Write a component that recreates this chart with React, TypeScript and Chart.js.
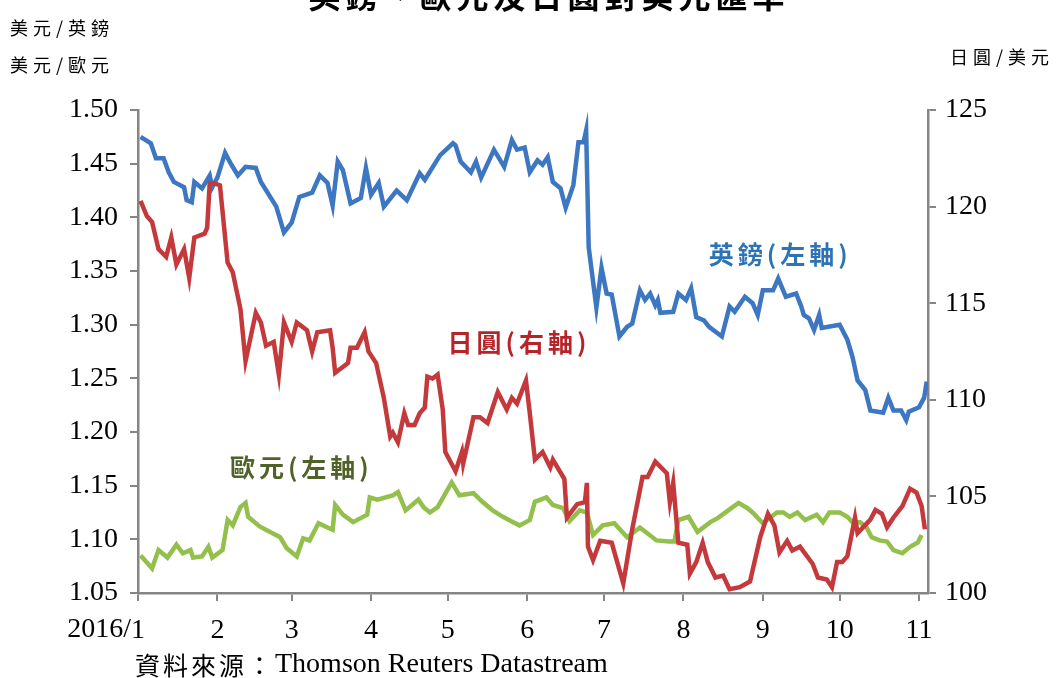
import React, { useEffect, useRef } from "react";
import { Chart, registerables } from "chart.js";

Chart.register(...registerables);

// x values: day of 2016 (0 = Jan 1)
const MONTH_START_DAYS = [0, 31, 60, 91, 121, 152, 182, 213, 244, 274, 305];
const MONTH_LABELS = ["1", "2", "3", "4", "5", "6", "7", "8", "9", "10", "11"];
const LEFT_TICKS = [1.05, 1.1, 1.15, 1.2, 1.25, 1.3, 1.35, 1.4, 1.45, 1.5];
const RIGHT_TICKS = [100, 105, 110, 115, 120, 125];

const TITLE = "英鎊、歐元及日圓對美元匯率";
const SOURCE_CJK = "資料來源：";
const SOURCE_EN = "Thomson Reuters Datastream";

const gbpDays = [1, 5, 7, 10, 12, 14, 18, 19, 21, 22, 25, 28, 29, 31, 34, 36, 39, 42, 46, 48, 54, 57, 60, 63, 68, 71, 74, 76, 78, 80, 83, 87, 89, 91, 94, 96, 101, 105, 110, 112, 118, 123, 124, 126, 130, 132, 134, 139, 143, 146, 148, 151, 153, 156, 158, 160, 162, 165, 167, 170, 172, 174, 175, 176, 179, 181, 183, 185, 188, 191, 193, 196, 198, 200, 202, 203, 204, 209, 211, 214, 216, 218, 221, 223, 228, 231, 233, 237, 240, 242, 244, 248, 250, 253, 257, 259, 260, 262, 264, 266, 267, 274, 277, 279, 281, 284, 286, 291, 293, 295, 298, 300, 301, 305, 307, 308];
const gbpValues = [1.475, 1.469, 1.455, 1.455, 1.442, 1.433, 1.428, 1.416, 1.414, 1.433, 1.427, 1.439, 1.428, 1.437, 1.46, 1.451, 1.439, 1.447, 1.446, 1.433, 1.41, 1.386, 1.395, 1.419, 1.423, 1.439, 1.432, 1.411, 1.452, 1.444, 1.413, 1.418, 1.446, 1.421, 1.432, 1.41, 1.425, 1.416, 1.441, 1.435, 1.458, 1.469, 1.467, 1.452, 1.442, 1.452, 1.437, 1.463, 1.447, 1.472, 1.463, 1.465, 1.442, 1.453, 1.449, 1.456, 1.433, 1.427, 1.409, 1.43, 1.47, 1.47, 1.481, 1.372, 1.316, 1.353, 1.329, 1.328, 1.289, 1.298, 1.301, 1.332, 1.323, 1.329, 1.318, 1.323, 1.311, 1.312, 1.329, 1.323, 1.334, 1.307, 1.304, 1.298, 1.289, 1.317, 1.312, 1.326, 1.32, 1.309, 1.332, 1.332, 1.343, 1.326, 1.329, 1.317, 1.309, 1.306, 1.295, 1.309, 1.297, 1.3, 1.286, 1.27, 1.248, 1.239, 1.22, 1.218, 1.232, 1.22, 1.22, 1.211, 1.219, 1.223, 1.232, 1.247];

const jpyDays = [1, 3.5, 5.5, 8, 11, 13, 15, 18, 20, 22, 26, 27, 28, 30, 32, 35, 37, 40, 42, 46, 48, 50, 53, 55, 57, 60, 62, 64, 66, 68, 70, 75, 76, 77, 82, 83, 85.5, 88.5, 90, 93, 96, 98.5, 99.5, 101.5, 104, 105.5, 108, 110, 112, 113, 115, 117, 119, 120, 124, 126.5, 127, 131, 133.5, 136.5, 140.5, 144, 146, 148, 151.5, 153, 155, 158, 161, 162, 166.5, 167.5, 171.5, 174.5, 175.3, 175.7, 177.7, 180.5, 185, 188, 189.5, 193, 197, 199, 202, 206.5, 207.7, 209, 211, 214.5, 215.5, 218, 220.5, 222.5, 225.5, 228.5, 231, 235, 239, 243, 246, 248.5, 250.5, 253.5, 255.5, 258.5, 263.5, 265.5, 269, 271, 273, 275, 277, 280, 281, 286, 288, 290.5, 292.5, 295, 298.5, 301.5, 304, 306, 307.3];
const jpyValues = [120.3, 119.5, 119.2, 117.8, 117.4, 118.4, 117.0, 117.8, 116.3, 118.4, 118.6, 118.9, 121.2, 121.2, 121.1, 117.1, 116.6, 114.7, 112.0, 114.5, 114.0, 112.8, 113.0, 111.3, 114.0, 113.0, 114.0, 113.8, 113.6, 112.5, 113.5, 113.6, 112.7, 111.4, 111.9, 112.7, 112.7, 113.5, 112.5, 111.9, 110.1, 108.1, 108.3, 107.8, 109.3, 108.7, 108.7, 109.3, 109.6, 111.2, 111.1, 111.3, 109.5, 107.3, 106.3, 107.3, 106.7, 109.1, 109.1, 108.8, 110.4, 109.5, 110.1, 109.8, 111.0, 109.3, 106.9, 107.3, 106.5, 106.9, 105.9, 103.9, 104.6, 104.7, 105.7, 102.4, 101.7, 102.7, 102.6, 101.2, 100.5, 103.3, 106.0, 106.0, 106.8, 106.2, 104.7, 105.7, 102.6, 102.5, 101.0, 101.6, 102.6, 101.6, 100.8, 100.9, 100.2, 100.3, 100.6, 102.9, 104.1, 103.5, 102.1, 102.7, 102.2, 102.4, 101.5, 100.8, 100.7, 100.3, 101.6, 101.6, 101.9, 103.9, 103.1, 103.8, 104.3, 104.1, 103.4, 103.9, 104.5, 105.4, 105.2, 104.5, 103.3];

const eurDays = [1, 5.5, 8, 11.5, 15, 17.5, 20.5, 21.5, 25, 27.5, 29, 33, 35, 37, 40, 42, 43, 47.5, 55.5, 58, 62, 64.5, 67, 70.5, 74, 76, 77, 80, 84, 89.5, 90.5, 93.5, 99.5, 101.5, 104.5, 109.5, 111.5, 114, 117, 122.5, 125.5, 131, 134.5, 138.5, 142.5, 146.5, 149, 153, 155, 159.5, 162, 166, 168.5, 172.5, 175.3, 177.7, 181.5, 186, 191, 196, 202.5, 207.5, 209.5, 211, 215, 218.5, 223.5, 226.5, 230.5, 234.5, 238, 240, 244, 249.5, 252, 254.5, 257.5, 260.5, 265, 267.5, 270, 274, 277, 279, 282, 284.5, 286.5, 289.5, 292.5, 295, 298.5, 301.5, 304.5, 306];
const eurValues = [1.085, 1.073, 1.09, 1.083, 1.095, 1.087, 1.09, 1.083, 1.084, 1.093, 1.083, 1.09, 1.118, 1.113, 1.13, 1.134, 1.121, 1.112, 1.102, 1.092, 1.084, 1.101, 1.099, 1.115, 1.111, 1.109, 1.132, 1.123, 1.116, 1.123, 1.139, 1.137, 1.141, 1.144, 1.127, 1.137, 1.13, 1.125, 1.13, 1.153, 1.141, 1.143, 1.135, 1.127, 1.121, 1.116, 1.113, 1.118, 1.135, 1.139, 1.132, 1.129, 1.117, 1.127, 1.125, 1.104, 1.113, 1.115, 1.102, 1.111, 1.099, 1.098, 1.098, 1.118, 1.121, 1.107, 1.116, 1.12, 1.127, 1.134, 1.129, 1.125, 1.115, 1.125, 1.125, 1.121, 1.125, 1.118, 1.123, 1.116, 1.125, 1.125, 1.121, 1.116, 1.116, 1.111, 1.102, 1.099, 1.098, 1.09, 1.087, 1.093, 1.097, 1.104];

const toPoints = (xs: number[], ys: number[]) => xs.map((x, i) => ({ x, y: ys[i] }));

const TICK_FONT = { family: "'Liberation Serif', 'Times New Roman', serif", size: 28 };
const AXIS_GRAY = "#858585";

const textPlugin = {
  id: "texts",
  afterDraw(chart: any) {
    const ctx = chart.ctx as CanvasRenderingContext2D;
    const xs = chart.scales.x;
    const yl = chart.scales.y;
    const yr = chart.scales.y2;
    const cjk = "'Noto Sans CJK TC', 'Noto Sans CJK SC', sans-serif";
    ctx.save();
    // title (cut off at the top, as in the reference)
    ctx.fillStyle = "#000";
    ctx.font = `bold 32px ${cjk}`;
    (ctx as any).letterSpacing = "5px";
    ctx.textAlign = "center";
    ctx.textBaseline = "alphabetic";
    ctx.fillText(TITLE, 549, 8);

    // unit labels
    ctx.font = `18px ${cjk}`;
    (ctx as any).letterSpacing = "5px";
    ctx.textAlign = "left";
    ctx.textBaseline = "middle";
    ctx.fillText("美元/英鎊", 10, 28);
    ctx.fillText("美元/歐元", 10, 65);
    ctx.fillText("日圓/美元", 950, 57);

    // series labels, placed in data coordinates
    ctx.font = `bold 25px ${cjk}`;
    (ctx as any).letterSpacing = "4px";
    ctx.textAlign = "center";
    ctx.fillStyle = "#2E74B5";
    ctx.fillText("英鎊(左軸)", xs.getPixelForValue(250) + 2, yl.getPixelForValue(1.365));
    ctx.fillStyle = "#B8232A";
    ctx.fillText("日圓(右軸)", xs.getPixelForValue(148) + 2, yr.getPixelForValue(112.94));
    ctx.fillStyle = "#4F6228";
    ctx.fillText("歐元(左軸)", xs.getPixelForValue(63) + 2, yl.getPixelForValue(1.1665));

    // year prefix on x axis
    (ctx as any).letterSpacing = "0px";
    ctx.fillStyle = "#000";
    ctx.font = `${TICK_FONT.size}px ${TICK_FONT.family}`;
    ctx.textAlign = "right";
    ctx.textBaseline = "middle";
    ctx.fillText("2016/", xs.getPixelForValue(0) - 7, chart.chartArea.bottom + 37);

    // source
    ctx.textAlign = "left";
    ctx.font = `25px ${cjk}`;
    (ctx as any).letterSpacing = "3px";
    ctx.fillText(SOURCE_CJK, 135, 665);
    const w = ctx.measureText(SOURCE_CJK).width;
    (ctx as any).letterSpacing = "0px";
    ctx.font = `28px ${TICK_FONT.family}`;
    ctx.fillText(SOURCE_EN, 135 + w, 665);
    ctx.restore();
  },
};

export default function App() {
  const ref = useRef<HTMLCanvasElement | null>(null);
  useEffect(() => {
    if (!ref.current) return;
    const chart = new Chart(ref.current, {
      type: "line",
      data: {
        datasets: [
          {
            label: "日圓",
            data: toPoints(jpyDays, jpyValues),
            yAxisID: "y2",
            borderColor: "#C43A3C",
            borderWidth: 4.5,
            pointRadius: 0,
            tension: 0,
            order: 0,
          },
          {
            label: "英鎊",
            data: toPoints(gbpDays, gbpValues),
            yAxisID: "y",
            borderColor: "#3D76C1",
            borderWidth: 4.5,
            pointRadius: 0,
            tension: 0,
            order: 1,
          },
          {
            label: "歐元",
            data: toPoints(eurDays, eurValues),
            yAxisID: "y",
            borderColor: "#93BF4C",
            borderWidth: 4.5,
            pointRadius: 0,
            tension: 0,
            order: 2,
          },
        ],
      },
      options: {
        animation: false,
        responsive: false,
        layout: { padding: { top: 110, left: 0, right: 0, bottom: 0 } },
        plugins: { legend: { display: false }, tooltip: { enabled: false }, title: { display: false } },
        scales: {
          x: {
            type: "linear",
            min: 0,
            max: 308.5,
            afterBuildTicks: (s: any) => {
              s.ticks = MONTH_START_DAYS.map((v) => ({ value: v }));
            },
            afterFit: (s: any) => {
              s.height = 85;
            },
            ticks: {
              autoSkip: false,
              maxRotation: 0,
              padding: 13,
              color: "#000",
              font: TICK_FONT,
              callback: (v: any) => MONTH_LABELS[MONTH_START_DAYS.indexOf(Number(v))] ?? "",
            },
            grid: { display: true, drawOnChartArea: false, tickLength: 8, color: AXIS_GRAY, lineWidth: 2 },
            border: { display: true, color: AXIS_GRAY, width: 2.5 },
          },
          y: {
            type: "linear",
            position: "left",
            min: 1.05,
            max: 1.5,
            afterBuildTicks: (s: any) => {
              s.ticks = LEFT_TICKS.map((v) => ({ value: v }));
            },
            afterFit: (s: any) => {
              s.width = 138;
            },
            ticks: {
              padding: 12,
              color: "#000",
              font: TICK_FONT,
              callback: (v: any) => Number(v).toFixed(2),
            },
            grid: { display: true, drawOnChartArea: false, tickLength: 8, color: AXIS_GRAY, lineWidth: 2 },
            border: { display: true, color: AXIS_GRAY, width: 2.5 },
          },
          y2: {
            type: "linear",
            position: "right",
            min: 100,
            max: 125,
            afterBuildTicks: (s: any) => {
              s.ticks = RIGHT_TICKS.map((v) => ({ value: v }));
            },
            afterFit: (s: any) => {
              s.width = 129;
            },
            ticks: {
              padding: 9,
              color: "#000",
              font: TICK_FONT,
              callback: (v: any) => String(v),
            },
            grid: { display: true, drawOnChartArea: false, tickLength: 8, color: AXIS_GRAY, lineWidth: 2 },
            border: { display: true, color: AXIS_GRAY, width: 2.5 },
          },
        },
      },
      plugins: [textPlugin],
    });
    return () => chart.destroy();
  }, []);

  return (
    <div style={{ position: "absolute", left: 0, top: 0, width: 1057, height: 678, background: "#fff" }}>
      <canvas ref={ref} width={1057} height={678} style={{ display: "block" }} />
    </div>
  );
}
